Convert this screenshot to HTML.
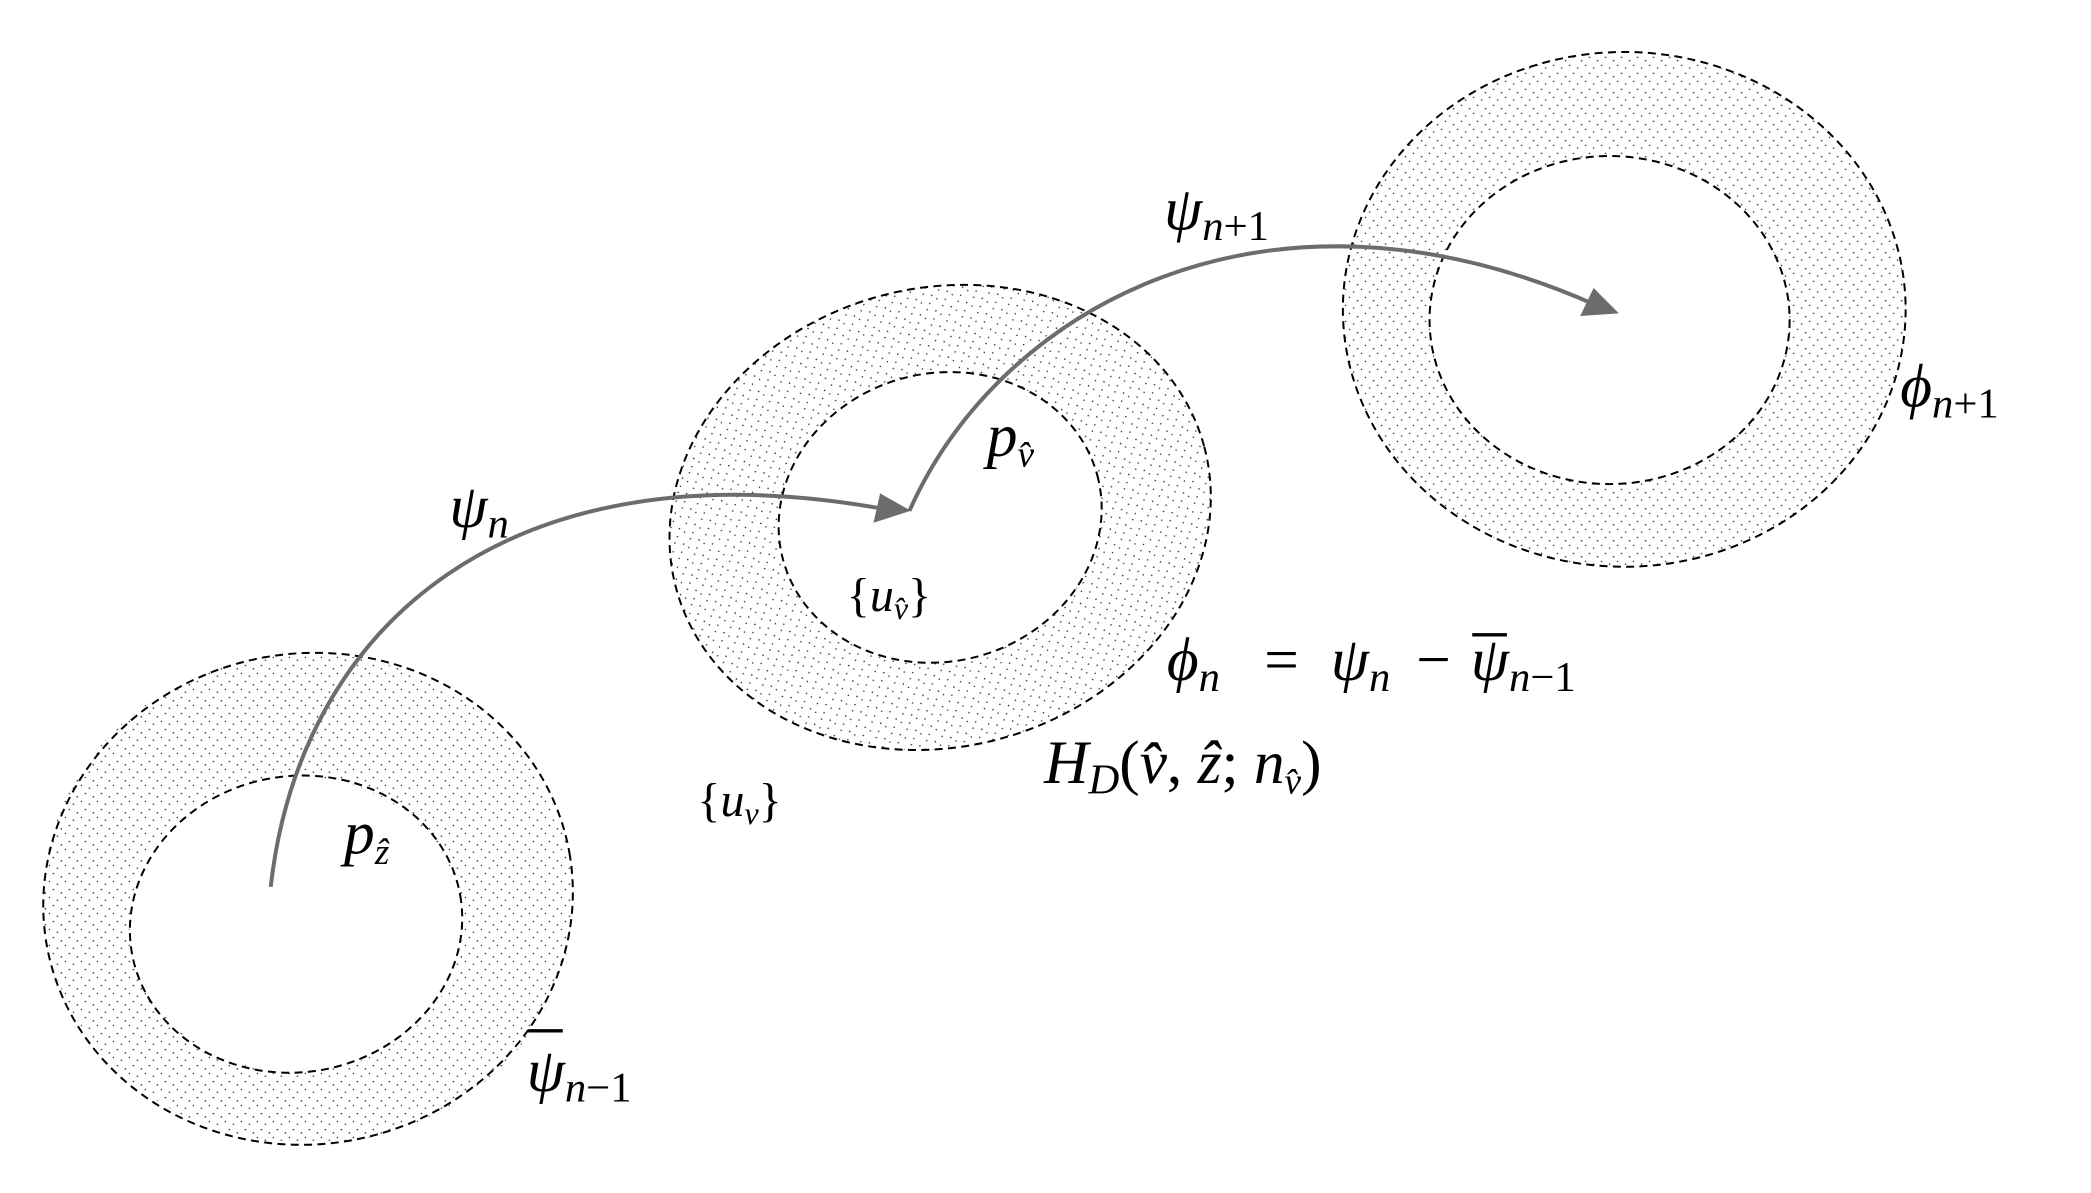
<!DOCTYPE html>
<html><head><meta charset="utf-8"><style>
html,body{margin:0;padding:0;background:#fff;}
svg{display:block}
text{font-family:"Liberation Serif","DejaVu Serif",serif;font-style:italic;fill:#000}
.u{font-style:normal}
</style></head><body>
<svg width="2091" height="1193" viewBox="0 0 1568 894.6" preserveAspectRatio="none" xmlns="http://www.w3.org/2000/svg">
<defs>
<pattern id="dots" width="12" height="12" patternUnits="userSpaceOnUse">
<rect width="12" height="12" fill="#fff"/>
<circle cx="1" cy="1" r="0.55" fill="#222"/><circle cx="7" cy="3" r="0.55" fill="#222"/>
<circle cx="4" cy="7" r="0.55" fill="#222"/><circle cx="10" cy="9.5" r="0.55" fill="#222"/>
</pattern>
</defs>
<g fill-rule="evenodd" stroke="#000" stroke-width="1.5" stroke-dasharray="6,4">
<path fill="url(#dots)" d="M32,674a199,184 0 1,0 398,0a199,184 0 1,0 -398,0Z M97,693a125,111 0 1,0 250,0a125,111 0 1,0 -250,0Z" stroke="none"/>
<ellipse cx="231" cy="674" rx="199" ry="184" fill="none" transform="rotate(-10 231 674)"/>
<ellipse cx="222" cy="693" rx="125" ry="111" fill="none" transform="rotate(-10 222 693)"/>
<path fill="url(#dots)" d="M500,388a205,172 0 1,0 410,0a205,172 0 1,0 -410,0Z M583,388a122,108 0 1,0 244,0a122,108 0 1,0 -244,0Z" stroke="none" transform="rotate(-15 705 388)"/>
<ellipse cx="705" cy="388" rx="205" ry="172" fill="none" transform="rotate(-15 705 388)"/>
<ellipse cx="705" cy="388" rx="122" ry="108" fill="none" transform="rotate(-15 705 388)"/>
<path fill="url(#dots)" d="M1007,232a211,193 0 1,0 422,0a211,193 0 1,0 -422,0Z M1072,240a135,123 0 1,0 270,0a135,123 0 1,0 -270,0Z" stroke="none"/>
<ellipse cx="1218" cy="232" rx="211" ry="193" fill="none"/>
<ellipse cx="1207" cy="240" rx="135" ry="123" fill="none"/>
</g>
<g fill="none" stroke="#6e6b6c" stroke-width="3">
<path d="M203,665 C225,470 380,330 665,382"/>
<path d="M682,383 C750,230 950,120 1195,228"/>
</g>
<polygon points="683,383 655,392 660,370" fill="#6e6b6c"/>
<polygon points="1214,235 1185,237 1195,216" fill="#6e6b6c"/>
<g font-size="46">
<text x="337" y="395">ψ<tspan font-size="32" dy="8">n</tspan></text>
<text x="873" y="172">ψ<tspan font-size="32" dy="8">n</tspan><tspan font-size="32" class="u">+1</tspan></text>
<text x="1425" y="305">ϕ<tspan font-size="32" dy="8">n</tspan><tspan font-size="32" class="u">+1</tspan></text>
<text x="740" y="342">p<tspan font-size="28" dy="8">v̂</tspan></text>
<text x="258" y="640">p<tspan font-size="28" dy="8">ẑ</tspan></text>
<text x="635" y="458" font-size="36"><tspan class="u">{</tspan>u<tspan font-size="24" dy="6">v̂</tspan><tspan class="u" dy="-6">}</tspan></text>
<text x="523" y="612" font-size="36"><tspan class="u">{</tspan>u<tspan font-size="24" dy="6">v</tspan><tspan class="u" dy="-6">}</tspan></text>
<text x="875" y="510">ϕ<tspan font-size="32" dy="8">n</tspan></text>
<text x="948" y="510" class="u">=</text>
<text x="998" y="510">ψ<tspan font-size="32" dy="8">n</tspan></text>
<text x="1062" y="510" class="u">−</text>
<text x="1103" y="510">ψ<tspan font-size="32" dy="8">n</tspan><tspan font-size="32" class="u">−1</tspan></text>
<line x1="1104" y1="476" x2="1130" y2="476" stroke="#000" stroke-width="2.5"/>
<text x="783" y="587">H<tspan font-size="32" dy="8">D</tspan><tspan class="u" dy="-8">(</tspan>v̂<tspan class="u">, </tspan>ẑ<tspan class="u">; </tspan>n<tspan font-size="28" dy="8">v̂</tspan><tspan class="u" dy="-8">)</tspan></text>
<text x="395" y="818">ψ<tspan font-size="32" dy="8">n</tspan><tspan font-size="32" class="u">−1</tspan></text>
<line x1="396" y1="773" x2="422" y2="773" stroke="#000" stroke-width="2.5"/>
</g>
</svg>
</body></html>
